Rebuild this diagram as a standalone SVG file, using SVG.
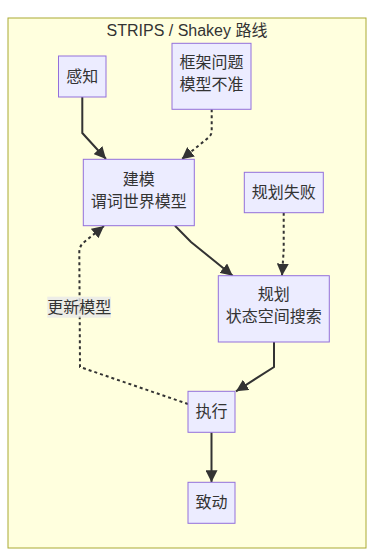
<svg xmlns="http://www.w3.org/2000/svg" width="375" height="556" viewBox="0 0 375 556">
<defs>
<style>
.cluster{fill:#ffffde;stroke:#aaaa33;stroke-width:1}
.node rect{fill:#ececff;stroke:#9370db;stroke-width:1}
text{font-family:"Liberation Sans","Noto Sans CJK SC",sans-serif;font-size:16px;fill:#333;text-anchor:middle;dominant-baseline:central}
.edge{fill:none;stroke:#333;stroke-width:2}
.dotted{stroke-dasharray:3 3}
.lbl{fill:#e8e8e8;fill-opacity:0.8}
</style>
<marker id="arrow" viewBox="0 0 10 10" refX="10" refY="5" markerUnits="userSpaceOnUse" markerWidth="12" markerHeight="12" orient="auto">
<path d="M0,0 L10,5 L0,10 z" fill="#333"/>
</marker>
</defs>
<rect width="375" height="556" fill="#ffffff"/>
<g id="cluster-strips">
<rect class="cluster" x="8" y="18" width="358" height="530"/>
<text x="187" y="30">STRIPS / Shakey 路线</text>
</g>
<g id="edges">
<path class="edge" d="M82.3,97 L82.3,133 L106,159" marker-end="url(#arrow)"/>
<path class="edge dotted" d="M211.7,109.3 L211.7,131 Q211.7,135 208,138 L181.7,159.3" marker-end="url(#arrow)"/>
<path class="edge" d="M175,225.7 L191,242 L232.7,275.7" marker-end="url(#arrow)"/>
<path class="edge dotted" d="M283.7,212.7 L283.7,250 L282,275.7" marker-end="url(#arrow)"/>
<path class="edge" d="M274,342 L274,367 L236,391.3" marker-end="url(#arrow)"/>
<path class="edge" d="M211.5,432.3 L211.5,482.3" marker-end="url(#arrow)"/>
<path class="edge dotted" d="M188,404 L80,367 L79.3,252 Q79.3,247 83,243 L104,226" marker-end="url(#arrow)"/>
<rect class="lbl" x="47.3" y="296.7" width="63.7" height="21"/>
<text x="79.2" y="307">更新模型</text>
</g>
<g id="node-ganzhi" class="node">
<rect x="58.5" y="56" width="47.5" height="41"/>
<text x="82.3" y="76">感知</text>
</g>
<g id="node-kuangjia" class="node">
<rect x="172" y="43.3" width="79" height="66"/>
<text x="211.5" y="62.5">框架问题</text>
<text x="211.5" y="84.5">模型不准</text>
</g>
<g id="node-jianmo" class="node">
<rect x="83.3" y="159.3" width="111" height="66.4"/>
<text x="138.8" y="179">建模</text>
<text x="138.8" y="201">谓词世界模型</text>
</g>
<g id="node-guihuashibai" class="node">
<rect x="244.3" y="172.3" width="79" height="40.4"/>
<text x="283.8" y="192.3">规划失败</text>
</g>
<g id="node-guihua" class="node">
<rect x="218.3" y="275.7" width="111" height="66.3"/>
<text x="273.8" y="294.5">规划</text>
<text x="273.8" y="316.5">状态空间搜索</text>
</g>
<g id="node-zhixing" class="node">
<rect x="188" y="391.3" width="47" height="41"/>
<text x="211.5" y="411.5">执行</text>
</g>
<g id="node-zhidong" class="node">
<rect x="188" y="482.3" width="47" height="41"/>
<text x="211.5" y="502.5">致动</text>
</g>
</svg>
